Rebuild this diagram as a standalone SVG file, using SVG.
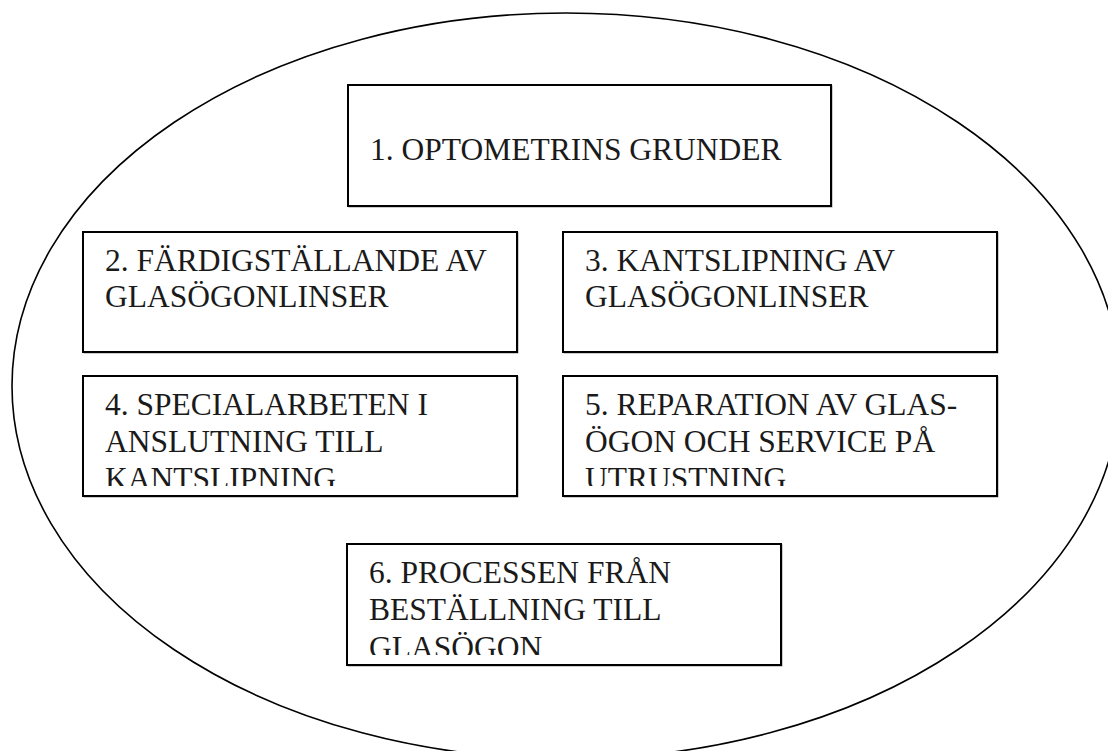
<svg xmlns="http://www.w3.org/2000/svg" width="1108" height="751" viewBox="0 0 1108 751">
<style>
.bx{fill:#fff;stroke:#000;stroke-width:2}
.sh{fill:none;stroke:#9a9a9a;stroke-width:1}
.t{font-family:"Liberation Serif","Times New Roman",serif;font-size:31.5px;fill:#1a1a1a}
</style>
<defs>
<clipPath id="c4"><rect x="83" y="376" width="434" height="110"/></clipPath>
<clipPath id="c5"><rect x="563" y="376" width="434" height="110"/></clipPath>
<clipPath id="c6"><rect x="347" y="544" width="434" height="111"/></clipPath>
</defs>
<rect width="1108" height="751" fill="#fff"/>
<ellipse id="outer" cx="566" cy="386" rx="554" ry="373" fill="none" stroke="#000" stroke-width="1.6"/>
<g id="connectors"/>
<g id="n1">
<rect class="sh" x="349" y="86" width="483" height="121"/>
<rect class="bx" x="348" y="85" width="483" height="121"/>
<text class="t" x="370" y="160">1. OPTOMETRINS GRUNDER</text>
</g>
<g id="n2">
<rect class="sh" x="84" y="233" width="434" height="120"/>
<rect class="bx" x="83" y="232" width="434" height="120"/>
<text class="t" x="105" y="271">2. FÄRDIGSTÄLLANDE AV</text>
<text class="t" x="105" y="307">GLASÖGONLINSER</text>
</g>
<g id="n3">
<rect class="sh" x="564" y="233" width="434" height="120"/>
<rect class="bx" x="563" y="232" width="434" height="120"/>
<text class="t" x="585" y="271">3. KANTSLIPNING AV</text>
<text class="t" x="585" y="307">GLASÖGONLINSER</text>
</g>
<g id="n4">
<rect class="sh" x="84" y="377" width="434" height="120"/>
<rect class="bx" x="83" y="376" width="434" height="120"/>
<g clip-path="url(#c4)">
<text class="t" x="105" y="415">4. SPECIALARBETEN I</text>
<text class="t" x="105" y="452">ANSLUTNING TILL</text>
<text class="t" x="105" y="489">KANTSLIPNING</text>
</g>
</g>
<g id="n5">
<rect class="sh" x="564" y="377" width="434" height="120"/>
<rect class="bx" x="563" y="376" width="434" height="120"/>
<g clip-path="url(#c5)">
<text class="t" x="585" y="415">5. REPARATION AV GLAS-</text>
<text class="t" x="585" y="452">ÖGON OCH SERVICE PÅ</text>
<text class="t" x="585" y="489">UTRUSTNING</text>
</g>
</g>
<g id="n6">
<rect class="sh" x="348" y="545" width="434" height="121"/>
<rect class="bx" x="347" y="544" width="434" height="121"/>
<g clip-path="url(#c6)">
<text class="t" x="369" y="583">6. PROCESSEN FRÅN</text>
<text class="t" x="369" y="620">BESTÄLLNING TILL</text>
<text class="t" x="369" y="658">GLASÖGON</text>
</g>
</g>
</svg>
